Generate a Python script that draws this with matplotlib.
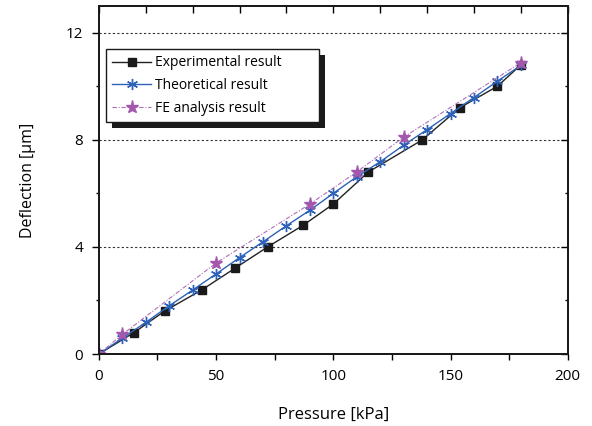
#!/usr/bin/env python3
"""
Deflection vs pressure: experiment, theory and FE analysis
"""
import matplotlib
matplotlib.use('Agg')
import matplotlib.pyplot as plt
from matplotlib.patches import Rectangle
from matplotlib.ticker import MultipleLocator

plt.rcParams['font.family'] = ['Open Sans', 'DejaVu Sans']

# Data
exp_p = [0, 15, 28, 44, 58, 72, 87, 100, 115, 138, 154, 170, 180]
exp_d = [0, 0.8, 1.6, 2.4, 3.2, 4.0, 4.8, 5.6, 6.8, 8.0, 9.2, 10.0, 10.8]

theo_p = [0, 10, 20, 30, 40, 50, 60, 70, 80, 90, 100, 110, 120, 130, 140, 150, 160, 170, 180]
theo_d = [0, 0.59, 1.18, 1.8, 2.39, 2.99, 3.6, 4.19, 4.79, 5.37, 6.0, 6.62, 7.18, 7.8,
          8.38, 8.98, 9.58, 10.19, 10.78]

fe_p = [0, 10, 50, 90, 110, 130, 180]
fe_d = [0, 0.73, 3.4, 5.6, 6.8, 8.1, 10.88]

fig = plt.figure(figsize=(5.92, 4.26), dpi=100)
ax = fig.add_axes([0.167, 0.169, 0.792, 0.817])

ax.plot(exp_p, exp_d, color='#222222', lw=1.0, marker='s', ms=6.2,
        mfc='#1a1a1a', mec='#1a1a1a', label='Experimental result', zorder=3)
ax.plot(theo_p, theo_d, color='#2d62b8', lw=1.0, marker=(6, 2, 0), ms=8,
        mew=1.0, label='Theoretical result', zorder=4)
ax.plot(fe_p, fe_d, color='#b070b8', lw=0.8, ls=(0, (4, 1.5, 1, 1.5)),
        marker='*', ms=9.5, mfc='#a358ad', mec='#a358ad', label='FE analysis result', zorder=5)

ax.set_xlim(0, 200)
ax.set_ylim(0, 13)
ax.xaxis.set_major_locator(MultipleLocator(50))
ax.xaxis.set_minor_locator(MultipleLocator(25))
ax.yaxis.set_major_locator(MultipleLocator(4))
ax.yaxis.set_minor_locator(MultipleLocator(2))
ax.tick_params(axis='x', which='both', direction='out', length=4.5, width=1,
               labelsize=11, pad=6.5, top=False)
ax.tick_params(axis='y', which='major', direction='out', length=5, width=1,
               labelsize=11, pad=6.5, right=False)
ax.tick_params(axis='y', which='minor', direction='out', length=2.5, width=1, right=False)

# right side ticks (inward)
axr = ax.twinx()
axr.set_ylim(ax.get_ylim())
axr.yaxis.set_major_locator(MultipleLocator(4))
axr.yaxis.set_minor_locator(MultipleLocator(2))
axr.tick_params(axis='y', which='major', direction='in', length=5, width=1, labelright=False)
axr.tick_params(axis='y', which='minor', direction='in', length=2.5, width=1)

# top ticks every 20 (inward)
axt = ax.twiny()
axt.set_xlim(ax.get_xlim())
axt.xaxis.set_major_locator(MultipleLocator(20))
axt.tick_params(axis='x', direction='in', length=5, width=1, labeltop=False)

for a in (ax, axr, axt):
    for s in a.spines.values():
        s.set_linewidth(1.2)
        s.set_color('#1a1a1a')

ax.grid(axis='y', which='major', color='#333333', ls=(0, (2, 2)), lw=0.8)
ax.set_axisbelow(True)

ax.set_xlabel('Pressure [kPa]', fontsize=12, labelpad=16)
ax.set_ylabel('Deflection [\u03bcm]', fontsize=11.5, labelpad=21)

handles, labels = ax.get_legend_handles_labels()
leg = axt.legend(handles, labels, loc='upper left', mode='expand',
                 bbox_to_anchor=(0.015, 0.662, 0.454, 0.214),
                 bbox_transform=ax.transAxes, fontsize=10, frameon=True, fancybox=False,
                 edgecolor='#1a1a1a', framealpha=1, handlelength=2.8, handletextpad=0.3,
                 borderpad=0.45, labelspacing=0.55, borderaxespad=0)
leg.get_frame().set_linewidth(1.0)
leg.set_zorder(10)

# black drop shadow behind the legend
fig.canvas.draw()
bb = leg.get_window_extent().transformed(fig.transFigure.inverted())
dx, dy = 6 / 592, -6 / 426
shadow = Rectangle((bb.x0 + dx, bb.y0 + dy), bb.width, bb.height,
                   transform=fig.transFigure, facecolor='#1a1a1a',
                   edgecolor='none', zorder=9, clip_on=False)
axt.add_artist(shadow)

plt.savefig('out.png', dpi=100)
